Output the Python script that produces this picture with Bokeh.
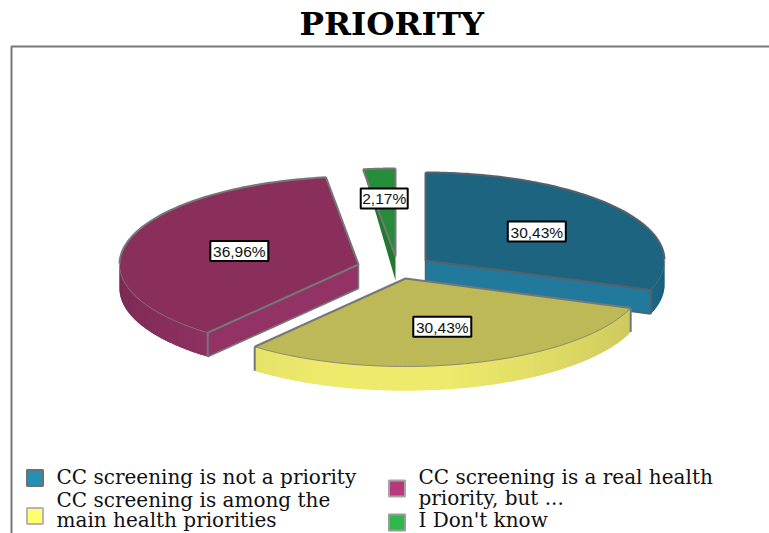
from bokeh.plotting import figure
from bokeh.embed import file_html
from bokeh.resources import INLINE
from bokeh.core.properties import value
from bokeh.models import Title
import numpy as np

# ---- data ----
categories = ["CC screening is not a priority",
              "CC screening is among the main health priorities",
              "CC screening is a real health priority, but ...",
              "I Don't know"]
shares = [30.43, 30.43, 36.96, 2.17]
share_labels = ["30,43%", "30,43%", "36,96%", "2,17%"]
legend_lines = [["CC screening is not a priority"],
                ["CC screening is among the", "main health priorities"],
                ["CC screening is a real health", "priority, but ..."],
                ["I Don't know"]]

# ---- style ----
W, H = 769, 533
TOP = 44
RX, RY, DEPTH = 239, 88, 24
apex = [(425, 260), (405, 278), (358, 264), (395, 256)]
top_col = ["#1c6480", "#bcb956", "#8a2f5c", "#258c3a"]
wall_rgb = [(33, 122, 156), (238, 234, 108), (147, 50, 100), (33, 120, 47)]
edge_col = ["#58606a", "#777777", "#777777", "#777777"]
swatch_col = ["#2490b4", "#ffff6e", "#b93a7c", "#2db84a"]
swatch_edge = ["#6f6f6f", "#b5b5b5", "#a5a5a5", "#9a9a9a"]
label_nudge = [(0, 0), (0, 0), (12, 0), (-2, -8)]
swatch_xy = [(34.5, 477.5), (34.5, 515.5), (396.5, 488), (396.5, 522)]
legend_text_xy = [(56, [476]), (56, [499, 519]), (418, [476, 497]), (418, [519])]

p = figure(width=W, height=H, output_backend="svg", toolbar_location=None,
           x_range=(0, W), y_range=(H, TOP),
           min_border=0, min_border_top=TOP, min_border_left=0, min_border_right=0, min_border_bottom=0,
           outline_line_color=None, background_fill_color="white", border_fill_color="white")
p.xaxis.visible = False
p.yaxis.visible = False
p.grid.visible = False
p.title = Title(text="PRIORITY", align="left", offset=299, text_font="DejaVu Serif", text_font_style="bold",
                text_font_size="32.5px", text_color="#000000", standoff=3)

# frame
p.line([11, 11, W], [H, 46, 46], line_color="#777777", line_width=2)

total = sum(shares)
ends = np.cumsum(shares) / total * 360.0
starts = np.concatenate([[0.0], ends[:-1]])


def pt(cx, cy, deg, dz=0.0):
    t = np.radians(deg)
    return cx + RX * np.sin(t), cy - RY * np.cos(t) + dz


def shade(deg):
    return np.interp(deg, [90, 110, 170, 200, 219, 270], [0.75, 0.86, 1.0, 1.0, 0.97, 0.82])


order = [3, 2, 0, 1]
for i in order:
    cx, cy = apex[i]
    a0, a1 = starts[i], ends[i]

    if i == 3:  # the thin slice only shows a sliver of its cut face
        x0, y0 = pt(cx, cy, a0)
        p.patch([x0, cx, cx], [y0, cy, cy + DEPTH], fill_color="#21782f", line_color=None)

    # straight cut face towards the viewer
    if i in (0, 2):
        a_edge = a0 if i == 2 else a1
        ex, ey = pt(cx, cy, a_edge)
        r, g, b = wall_rgb[i]
        p.patch([cx, ex, ex, cx], [cy, ey, ey + DEPTH, cy + DEPTH],
                fill_color="#%02x%02x%02x" % (r, g, b), line_color=None)
        p.line([cx, ex], [cy + DEPTH, ey + DEPTH], line_color=edge_col[i], line_width=1.5)
        p.line([cx, cx], [cy, cy + DEPTH], line_color=edge_col[i], line_width=1.5)

    # curved rim, drawn as graded overlapping strips
    lo, hi = max(a0, 90.0), min(a1, 270.0)
    if hi > lo:
        grid = np.linspace(lo, hi, int((hi - lo) / 2) + 2)
        for d0, d1 in zip(grid[:-1], grid[1:]):
            seg = np.linspace(d0, min(d1 + 2.0, hi), 6)
            sx, sy = pt(cx, cy, seg)
            s = shade((d0 + d1) / 2)
            cc = "#%02x%02x%02x" % tuple(int(min(255, c * s)) for c in wall_rgb[i])
            p.patch(np.r_[sx, sx[::-1]], np.r_[sy, sy[::-1] + DEPTH], fill_color=cc, line_color=None)

    # top face
    arc = np.linspace(a0, a1, 120)
    ax, ay = pt(cx, cy, arc)
    p.patch(np.r_[cx, ax], np.r_[cy, ay], fill_color=top_col[i], line_color=None)

    # outlines: straight edges and back of the rim are heavy, front of the rim thin
    x0, y0 = pt(cx, cy, a0)
    x1, y1 = pt(cx, cy, a1)
    p.line([x1, cx, x0], [y1, cy, y0], line_color=edge_col[i], line_width=2)
    front = (arc >= 90) & (arc <= 270)
    if front.any():
        p.line(ax[front], ay[front], line_color=edge_col[i], line_width=0.8)
    back_low = arc <= 90
    back_high = arc >= 270
    if back_low.any():
        p.line(ax[back_low], ay[back_low], line_color=edge_col[i], line_width=2)
    if back_high.any():
        p.line(ax[back_high], ay[back_high], line_color=edge_col[i], line_width=2)

    # end lines of the rim
    for d in (a0, a1):
        if 90 <= d <= 270:
            ex, ey = pt(cx, cy, d)
            p.line([ex, ex], [ey, ey + DEPTH], line_color=edge_col[i], line_width=2)

# value labels
mids = (starts + ends) / 2
for i, txt in enumerate(share_labels):
    t = np.radians(mids[i])
    lx = apex[i][0] + 0.57 * RX * np.sin(t) + label_nudge[i][0]
    ly = apex[i][1] - 0.57 * RY * np.cos(t) + label_nudge[i][1]
    bw = 58 if len(txt) > 5 else 47
    p.rect([lx], [ly], width=bw, height=20, fill_color="white", line_color="black", line_width=2)
    p.text([lx], [ly + 0.5], text=[txt], text_align="center", text_baseline="middle",
           text_font=value("Liberation Sans"), text_font_size="15.5px", text_color="#111111")

# legend
for i in range(len(categories)):
    sx, sy = swatch_xy[i]
    p.rect([sx], [sy], width=16, height=16, fill_color=swatch_col[i], line_color=swatch_edge[i], line_width=2)
    tx, tys = legend_text_xy[i]
    for line, ty in zip(legend_lines[i], tys):
        p.text([tx], [ty], text=[line], text_align="left", text_baseline="middle",
               text_font=value("DejaVu Serif"), text_font_size="20px", text_color="#111111")

open("out.html", "w").write(file_html(p, INLINE))
